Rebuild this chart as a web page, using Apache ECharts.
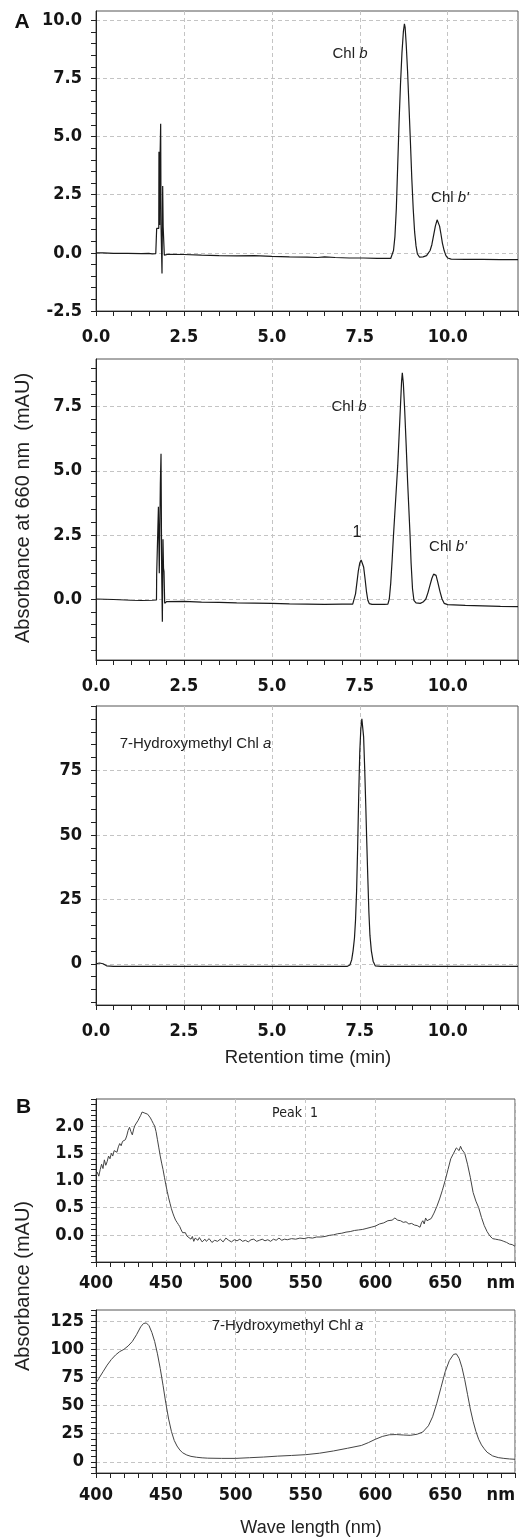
<!DOCTYPE html>
<html><head><meta charset="utf-8">
<script src="https://cdn.jsdelivr.net/npm/echarts@6/dist/echarts.min.js"></script>
<style>html,body{margin:0;padding:0;background:#fff}#c{width:519px;height:1537px}</style>
</head><body><div id="c"></div>
<script>
// ---------- data ----------
const hplcTop = [[0,0.0],[0.2,0.0],[0.5,-0.02],[0.9,-0.02],[1.3,-0.03],[1.5,-0.02],[1.6,-0.04],[1.7,-0.03],[1.72,-0.02],[1.725,1.05],[1.785,1.05],[1.79,4.35],[1.81,1.2],[1.825,4.4],[1.839,5.55],[1.85,1.12],[1.877,-0.89],[1.896,2.87],[1.91,1.12],[1.934,1.1],[1.943,-0.1],[1.99,-0.17],[2.06,-0.06],[2.5,-0.07],[3.0,-0.1],[3.5,-0.12],[4.0,-0.13],[4.5,-0.12],[5.0,-0.15],[5.5,-0.17],[6.0,-0.18],[6.3,-0.2],[6.5,-0.17],[6.8,-0.2],[7.2,-0.22],[7.6,-0.22],[8.0,-0.24],[8.38,-0.24],[8.42,-0.2],[8.46,0.1],[8.5,0.7],[8.54,1.9],[8.58,3.8],[8.62,5.7],[8.66,7.3],[8.7,8.6],[8.74,9.5],[8.77,9.85],[8.79,9.7],[8.82,9.0],[8.86,7.8],[8.9,6.3],[8.94,4.8],[8.98,3.2],[9.02,1.9],[9.06,0.9],[9.1,0.3],[9.14,-0.05],[9.2,-0.18],[9.3,-0.17],[9.4,-0.12],[9.45,-0.1],[9.5,0.1],[9.55,0.35],[9.6,0.75],[9.65,1.15],[9.7,1.42],[9.73,1.4],[9.77,1.15],[9.81,0.8],[9.85,0.42],[9.9,0.1],[9.95,-0.12],[10.0,-0.22],[10.1,-0.27],[10.5,-0.28],[11.0,-0.28],[11.5,-0.29],[12.0,-0.29]];

const hplcMid = [[0,0.0],[0.5,-0.02],[1.0,-0.05],[1.3,-0.06],[1.6,-0.05],[1.72,-0.04],[1.725,0.94],[1.765,0.94],[1.775,3.6],[1.8,1.0],[1.83,4.5],[1.849,5.66],[1.868,1.0],[1.887,-0.89],[1.905,2.33],[1.92,1.2],[1.934,1.07],[1.953,-0.17],[2.01,-0.1],[2.5,-0.09],[3.0,-0.12],[3.5,-0.13],[4.0,-0.15],[4.5,-0.16],[5.0,-0.17],[5.5,-0.19],[6.0,-0.2],[6.5,-0.21],[7.0,-0.2],[7.3,-0.2],[7.34,-0.15],[7.38,0.2],[7.42,0.65],[7.46,1.1],[7.5,1.4],[7.54,1.52],[7.57,1.5],[7.61,1.25],[7.65,0.8],[7.69,0.3],[7.73,-0.05],[7.77,-0.18],[7.85,-0.21],[8.0,-0.21],[8.2,-0.21],[8.3,-0.2],[8.34,0.0],[8.38,0.6],[8.42,1.5],[8.46,2.5],[8.5,3.4],[8.54,4.3],[8.58,5.2],[8.62,6.4],[8.66,7.6],[8.69,8.5],[8.71,8.82],[8.74,8.4],[8.78,7.3],[8.82,6.0],[8.86,4.6],[8.9,3.4],[8.93,2.5],[8.96,1.4],[9.0,0.4],[9.04,-0.05],[9.1,-0.15],[9.22,-0.17],[9.3,-0.12],[9.38,0.0],[9.44,0.25],[9.5,0.55],[9.55,0.8],[9.6,0.97],[9.63,1.0],[9.67,0.92],[9.72,0.65],[9.78,0.3],[9.84,0.0],[9.9,-0.17],[10.0,-0.22],[10.5,-0.25],[11.0,-0.27],[11.5,-0.29],[12.0,-0.3]];

const hplcBottom = [[0,0],[0.1,0.3],[0.2,0.0],[0.3,-0.8],[0.5,-1.0],[2,-1],[4,-1],[6,-1],[7.0,-1],[7.15,-1],[7.22,-0.5],[7.27,1.5],[7.31,5],[7.35,10],[7.38,17],[7.41,28],[7.44,45],[7.47,65],[7.5,82],[7.53,91],[7.56,95],[7.58,94.5],[7.61,88],[7.64,76],[7.67,62],[7.7,47],[7.73,33],[7.76,20],[7.79,11],[7.83,5],[7.88,1],[7.94,-0.8],[8.1,-1],[10,-1],[12,-1]];

const specPeak1 = [[400,1.1],[401,1.15],[402,1.08],[403,1.2],[404,1.3],[405,1.22],[406,1.38],[407,1.28],[408,1.35],[409,1.45],[410,1.4],[411,1.5],[412,1.45],[413,1.55],[414,1.58],[415,1.52],[416,1.62],[417,1.68],[418,1.64],[419,1.72],[420,1.7],[421,1.75],[422,1.82],[423,1.92],[424,1.98],[425,1.9],[426,1.84],[427,1.95],[428,2.02],[429,2.04],[430,2.1],[431,2.12],[432,2.2],[433,2.26],[434,2.25],[435,2.24],[436,2.26],[437,2.22],[438,2.22],[439,2.15],[440,2.1],[441,2.05],[442,2.0],[443,1.9],[444,1.75],[445,1.6],[446,1.45],[447,1.32],[448,1.2],[449,1.06],[450,0.92],[451,0.8],[452,0.68],[453,0.58],[454,0.48],[455,0.4],[456,0.33],[457,0.27],[458,0.23],[459,0.19],[460,0.15],[461,0.09],[462,0.04],[463,0.02],[464,0.04],[465,-0.02],[466,0.0],[468,-0.08],[469,-0.03],[470,-0.12],[471,-0.06],[473,-0.1],[474,-0.05],[476,-0.13],[478,-0.08],[479,-0.12],[481,-0.07],[483,-0.14],[485,-0.1],[487,-0.12],[489,-0.08],[491,-0.13],[493,-0.06],[495,-0.1],[497,-0.13],[499,-0.09],[501,-0.11],[503,-0.08],[505,-0.12],[507,-0.1],[509,-0.13],[511,-0.09],[513,-0.08],[515,-0.12],[517,-0.1],[519,-0.08],[521,-0.11],[523,-0.09],[525,-0.12],[527,-0.08],[529,-0.1],[531,-0.06],[533,-0.1],[535,-0.08],[537,-0.09],[540,-0.07],[543,-0.08],[546,-0.06],[549,-0.07],[552,-0.05],[555,-0.06],[558,-0.04],[561,-0.04],[564,-0.03],[567,-0.01],[570,0.0],[573,0.02],[576,0.03],[579,0.05],[582,0.06],[585,0.08],[588,0.09],[591,0.1],[594,0.12],[597,0.14],[600,0.16],[603,0.2],[606,0.22],[609,0.26],[612,0.27],[614,0.31],[616,0.27],[618,0.26],[620,0.23],[622,0.24],[624,0.2],[626,0.21],[628,0.18],[630,0.17],[632,0.14],[633,0.22],[634,0.26],[635,0.2],[636,0.31],[637,0.26],[638,0.26],[640,0.3],[642,0.4],[644,0.52],[646,0.66],[648,0.82],[650,1.0],[652,1.2],[654,1.4],[656,1.5],[658,1.6],[659,1.62],[660,1.55],[661,1.63],[662,1.57],[663,1.6],[664,1.5],[666,1.3],[668,1.06],[670,0.78],[672,0.62],[674,0.5],[676,0.32],[678,0.17],[680,0.06],[682,-0.02],[684,-0.07],[686,-0.08],[688,-0.09],[690,-0.1],[692,-0.12],[694,-0.14],[696,-0.17],[698,-0.18],[700,-0.21]];

const specHydroxy = [[400,70],[402,74],[405,80],[408,86],[411,91],[414,95],[417,98],[420,100],[423,103],[426,107],[429,113],[432,120],[434,123],[435,124],[436,123.5],[438,121],[440,115],[442,107],[444,96],[446,83],[448,68],[450,52],[452,38],[454,27],[456,19],[458,14],[460,10.5],[462,8],[465,6],[468,4.8],[472,4],[476,3.5],[480,3.2],[490,3.0],[500,3.0],[510,3.6],[520,4.2],[530,5.0],[540,5.6],[550,6.3],[560,7.6],[570,9.6],[580,12],[590,14.5],[595,17],[600,20],[605,22.5],[610,24],[615,24.2],[620,23.8],[625,23.5],[630,24.5],[634,26.5],[638,32],[641,40],[644,52],[647,66],[650,80],[653,90],[656,95.5],[658,96],[660,92],[662,84],[664,73],[666,60],[668,47],[670,36],[672,27],[674,20],[676,15],[678,11.5],[680,8.5],[684,5.2],[688,3.7],[692,3.0],[696,2.5],[700,2.2]];

// tick labels
const hplcXLabels = [0, 2.5, 5, 7.5, 10];
const topYLabels = [-2.5, 0, 2.5, 5, 7.5, 10];
const midYLabels = [0, 2.5, 5, 7.5];
const bottomYLabels = [0, 25, 50, 75];
const specXLabels = [400, 450, 500, 550, 600, 650, 700];
const peak1YLabels = [0, 0.5, 1, 1.5, 2];
const hydroxyYLabels = [0, 25, 50, 75, 100, 125];

function steps(a, b, s) {
  const out = []; const n = Math.round((b - a) / s);
  for (let i = 0; i <= n; i++) out.push(+(a + i * s).toFixed(4));
  return out;
}

const tickFont = 'DejaVu Sans Condensed';
const f1 = v => (+v).toFixed(1);
const f0 = v => String(Math.round(v));
const fnm = v => (+v === 700 ? 'nm' : String(Math.round(v)));

const panels = [
  {grid:{left:96, top:11, width:422, height:300}, xr:[0,12], yr:[-2.5,10.4], xl:hplcXLabels, yl:topYLabels,
   xt:steps(0,12,0.5), yt:steps(-2.5,10,0.5), xf:f1, yf:f1, data:hplcTop, color:'#1a1a1a', lw:1.2, xm:17, ym:14},
  {grid:{left:96, top:359, width:422, height:301}, xr:[0,12], yr:[-2.38,9.36], xl:hplcXLabels, yl:midYLabels,
   xt:steps(0,12,0.5), yt:steps(-2,9,0.5), xf:f1, yf:f1, data:hplcMid, color:'#1a1a1a', lw:1.2, xm:17, ym:14},
  {grid:{left:96, top:706, width:422, height:299}, xr:[0,12], yr:[-16,100], xl:hplcXLabels, yl:bottomYLabels,
   xt:steps(0,12,0.5), yt:steps(-15,100,5), xf:f1, yf:f0, data:hplcBottom, color:'#1a1a1a', lw:1.2, xm:17, ym:14},
  {grid:{left:96, top:1099, width:419, height:163}, xr:[400,700], yr:[-0.5,2.5], xl:specXLabels, yl:peak1YLabels,
   xt:steps(400,700,10), yt:steps(-0.5,2.5,0.1), xf:fnm, yf:f1, data:specPeak1, color:'#444', lw:1, xm:12, ym:12},
  {grid:{left:96, top:1310, width:419, height:163}, xr:[400,700], yr:[-10,135], xl:specXLabels, yl:hydroxyYLabels,
   xt:steps(400,700,10), yt:steps(-10,135,5), xf:fnm, yf:f0, data:specHydroxy, color:'#444', lw:1, xm:13, ym:12}
];

const grids = [], xAxes = [], yAxes = [], series = [];
const axisColor = '#222';
const gridLine = {show:true, lineStyle:{color:'#c4c4c4', width:1, type:[4,3]}};
const labelStyle = {fontFamily: tickFont, fontWeight:'bold', fontSize:18, color:'#151515'};

panels.forEach((p, i) => {
  grids.push(Object.assign({show:true, borderColor:'#555', borderWidth:1, backgroundColor:'transparent', containLabel:false, outerBoundsMode:'none'}, p.grid));
  xAxes.push({type:'value', gridIndex:i, min:p.xr[0], max:p.xr[1], position:'bottom',
    axisLine:{show:true, onZero:false, lineStyle:{color:axisColor, width:1}},
    axisTick:{show:true, inside:false, length:5, customValues:p.xt, lineStyle:{color:axisColor}},
    axisLabel:Object.assign({show:true, customValues:p.xl, formatter:p.xf, margin:p.xm, alignMaxLabel: p.xr[1] === 700 ? 'right' : null}, labelStyle),
    splitLine:{show:false}});
  xAxes.push({type:'value', gridIndex:i, min:p.xr[0], max:p.xr[1],
    axisLine:{show:false}, axisTick:{show:false, customValues:p.xl}, axisLabel:{show:false}, splitLine:gridLine});
  yAxes.push({type:'value', gridIndex:i, min:p.yr[0], max:p.yr[1], position:'left',
    axisLine:{show:true, onZero:false, lineStyle:{color:axisColor, width:1}},
    axisTick:{show:true, inside:false, length:5, customValues:p.yt, lineStyle:{color:axisColor}},
    axisLabel:Object.assign({show:true, customValues:p.yl, formatter:p.yf, margin:p.ym}, labelStyle),
    splitLine:{show:false}});
  yAxes.push({type:'value', gridIndex:i, min:p.yr[0], max:p.yr[1],
    axisLine:{show:false}, axisTick:{show:false, customValues:p.yl}, axisLabel:{show:false}, splitLine:gridLine});
  series.push({type:'line', xAxisIndex:2*i, yAxisIndex:2*i, data:p.data, showSymbol:false, symbol:'none',
    lineStyle:{color:p.color, width:p.lw}, silent:true, animation:false, z:5});
});

const annFont = 'Liberation Sans';
function ann(x, y, text, size, extra) {
  return Object.assign({type:'text', x:x, y:y, silent:true, z:100, style:{text:text, fontFamily:annFont, fontSize:size || 15,
    fill:'#222', align:'center', verticalAlign:'middle',
    rich:{r:{fontFamily:annFont, fontSize:size || 15, fill:'#222'}, i:{fontFamily:annFont, fontSize:size || 15, fontStyle:'italic', fill:'#222'}}}}, extra || {});
}

const graphics = [
  ann(22, 22, 'A', 21, {style:{text:'A', fontFamily:annFont, fontSize:21, fontWeight:'bold', fill:'#111', align:'center', verticalAlign:'middle'}}),
  ann(23.5, 1107, 'B', 21, {style:{text:'B', fontFamily:annFont, fontSize:21, fontWeight:'bold', fill:'#111', align:'center', verticalAlign:'middle'}}),
  ann(350, 54, '{r|Chl }{i|b}'),
  ann(450, 198, "{r|Chl }{i|b'}"),
  ann(349, 407, '{r|Chl }{i|b}'),
  ann(357, 533, '{r|1}', 16),
  ann(448, 547, "{r|Chl }{i|b'}"),
  ann(195.5, 744, '{r|7-Hydroxymethyl Chl }{i|a}'),
  ann(295, 1113, 'Peak  1', 14, {style:{text:'Peak  1', fontFamily:tickFont, fontSize:14, fill:'#222', align:'center', verticalAlign:'middle'}}),
  ann(287.5, 1326, '{r|7-Hydroxymethyl Chl }{i|a}'),
  ann(23, 508, 'Absorbance at 660 nm  (mAU)', 20, {rotation:Math.PI/2, style:{text:'Absorbance at 660 nm  (mAU)', fontFamily:annFont, fontSize:20, fill:'#222', align:'center', verticalAlign:'middle'}}),
  ann(308, 1058, 'Retention time (min)', 18.5, {style:{text:'Retention time (min)', fontFamily:annFont, fontSize:18.5, fill:'#222', align:'center', verticalAlign:'middle'}}),
  ann(23, 1286, 'Absorbance (mAU)', 20, {rotation:Math.PI/2, style:{text:'Absorbance (mAU)', fontFamily:annFont, fontSize:20, fill:'#222', align:'center', verticalAlign:'middle'}}),
  ann(311, 1528, 'Wave length (nm)', 18, {style:{text:'Wave length (nm)', fontFamily:annFont, fontSize:18, fill:'#222', align:'center', verticalAlign:'middle'}})
];

const chart = echarts.init(document.getElementById('c'), null, {renderer:'canvas'});
chart.setOption({
  animation:false,
  backgroundColor:'#fff',
  grid:grids, xAxis:xAxes, yAxis:yAxes, series:series,
  graphic:graphics
});
</script></body></html>
